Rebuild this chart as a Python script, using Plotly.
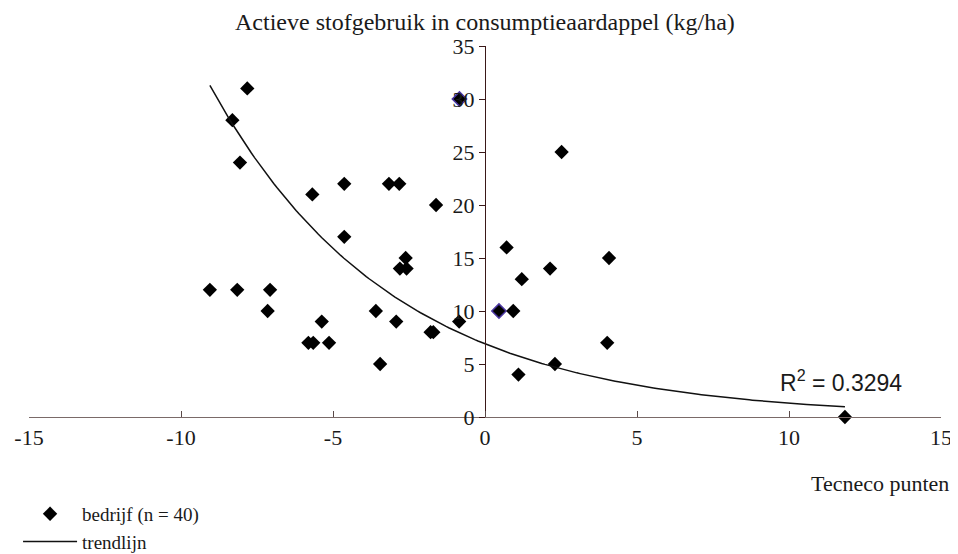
import numpy as np
import plotly.graph_objects as go

# Data
tecneco = [-9.05, -8.15, -7.07, -7.15, -8.31, -7.82, -8.06, -5.68, -4.63, -4.63,
           -3.16, -2.82, -1.61, -2.61, -2.80, -2.58, -3.59, -2.92, -1.79, -1.70,
           -0.85, -3.45, -5.37, -5.81, -5.65, -5.13, -0.84, 2.52, 0.71, 1.21,
           2.14, 4.08, 0.46, 0.93, 1.10, 2.30, 4.02, 11.84]
stofgebruik = [12, 12, 12, 10, 28, 31, 24, 21, 22, 17,
               22, 22, 20, 15, 14, 14, 10, 9, 8, 8,
               9, 5, 9, 7, 7, 7, 30, 25, 16, 13,
               14, 15, 10, 10, 4, 5, 7, 0]
highlighted = [False] * 26 + [True] + [False] * 5 + [True] + [False] * 5

# Exponential trendline y = a * exp(b * x), parameters
TREND_A = 6.9
TREND_B = -0.167
TREND_X0 = -9.05
TREND_X1 = 11.84
R2_TEXT = "R<sup>2</sup> = 0.3294"

x_ticks = [-15, -10, -5, 0, 5, 10, 15]
y_ticks = [0, 5, 10, 15, 20, 25, 30, 35]

SERIF = "Liberation Serif, Times New Roman, serif"
SANS = "Liberation Sans, Arial, sans-serif"

tx = np.linspace(TREND_X0, TREND_X1, 200)
ty = TREND_A * np.exp(TREND_B * tx)

fig = go.Figure()
fig.add_trace(go.Scatter(
    x=tecneco, y=stofgebruik, mode="markers", name="bedrijf (n = 40)",
    cliponaxis=False,
    marker=dict(symbol="diamond", size=11, color="black",
                line=dict(width=[1.5 if h else 0 for h in highlighted],
                          color=["#4a35a0" if h else "black" for h in highlighted])),
))
fig.add_trace(go.Scatter(
    x=tx, y=ty, mode="lines", name="trendlijn", cliponaxis=False,
    line=dict(color="#111111", width=1.5),
))

# the page body adds an 8px offset, so the figure is 950x546
fig.update_layout(
    width=950, height=546,
    margin=dict(l=21, r=17, t=38, b=137, autoexpand=False),
    paper_bgcolor="white", plot_bgcolor="white",
    font=dict(family=SERIF, size=20, color="#1a1a1a"),
    showlegend=True,
    legend=dict(x=-0.012, y=-0.21, xanchor="left", yanchor="top",
                bgcolor="rgba(0,0,0,0)", itemwidth=54, tracegroupgap=0,
                font=dict(family=SERIF, size=19, color="#1a1a1a")),
    xaxis=dict(range=[-15, 15], showgrid=False, zeroline=False,
               showline=True, linecolor="#7a6a68", linewidth=1.2,
               ticks="inside", ticklen=6, tickcolor="#5a4a48",
               tickvals=x_ticks, ticktext=[str(v) for v in x_ticks],
               tickfont=dict(family=SERIF, size=22, color="#1a1a1a")),
    yaxis=dict(range=[0, 35], showgrid=False, zeroline=False,
               anchor="free", position=0.5,
               showline=True, linecolor="#3a1818", linewidth=1.2,
               ticks="outside", ticklen=6, tickcolor="#3a1818",
               tickvals=y_ticks, ticktext=[str(v) for v in y_ticks],
               tickfont=dict(family=SERIF, size=22, color="#1a1a1a")),
    annotations=[
        dict(text="Actieve stofgebruik in consumptieaardappel (kg/ha)",
             x=0, xref="x", y=1.065, yref="paper", showarrow=False,
             xanchor="center", yanchor="middle",
             font=dict(family=SERIF, size=24, color="#1a1a1a")),
        dict(text="Tecneco punten", x=1.011, xref="paper", y=-0.178, yref="paper",
             showarrow=False, xanchor="right", yanchor="middle",
             font=dict(family=SERIF, size=22, color="#1a1a1a")),
        dict(text=R2_TEXT, x=9.64, xref="x", y=3.4, yref="y",
             showarrow=False, xanchor="left", yanchor="middle",
             font=dict(family=SANS, size=23, color="#1a1a1a")),
    ],
)

fig.write_html("out.html")
